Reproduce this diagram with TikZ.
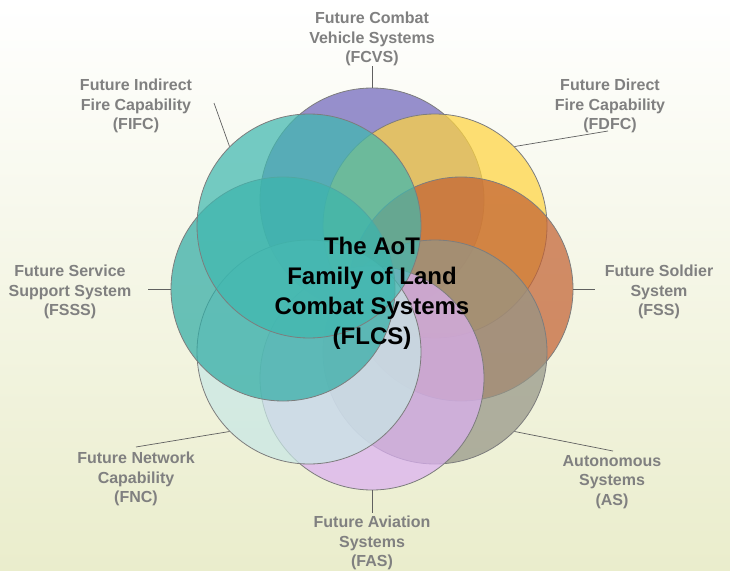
\documentclass[tikz,border=0pt]{standalone}
\usepackage{fontspec}
\setmainfont{Liberation Sans}
\definecolor{cFCVS}{RGB}{112,102,188}
\definecolor{cFDFC}{RGB}{255,212,65}
\definecolor{cFSS}{RGB}{195,98,51}
\definecolor{cAS}{RGB}{149,149,134}
\definecolor{cFAS}{RGB}{219,176,241}
\definecolor{cFNC}{RGB}{200,231,229}
\definecolor{cFSSS}{RGB}{50,172,165}
\definecolor{cFIFC}{RGB}{64,184,176}
\definecolor{circline}{RGB}{125,125,125}
\definecolor{labgray}{RGB}{128,128,128}
\definecolor{leadgray}{RGB}{96,96,96}
\definecolor{bgmid}{RGB}{248,248,236}
\definecolor{bgbot}{RGB}{234,237,204}
\begin{document}
\begin{tikzpicture}[x=1pt,y=-1pt,
  circ/.style={circle, draw=circline, line width=0.8pt, minimum size=224pt, inner sep=0pt, fill opacity=0.72},
  lab/.style={text=labgray, font=\bfseries\fontsize{16}{19.2}\selectfont, align=center, inner sep=0pt},
  lead/.style={draw=leadgray, line width=0.7pt}]
\useasboundingbox (0,0) rectangle (730,570);
\shade[top color=white, middle color=bgmid, bottom color=bgbot] (0,0) rectangle (730,570);
% circles
\node[circ, fill=cFCVS] (fcvs) at (372,200) {};
\node[circ, fill=cFDFC] (fdfc) at (435,226) {};
\node[circ, fill=cFSS]  (fss)  at (461,289) {};
\node[circ, fill=cAS]   (as)   at (435,352) {};
\node[circ, fill=cFAS]  (fas)  at (372,378) {};
\node[circ, fill=cFNC]  (fnc)  at (309,352) {};
\node[circ, fill=cFSSS] (fsss) at (283,289) {};
\node[circ, fill=cFIFC] (fifc) at (309,226) {};
% centre text
\node[font=\bfseries\fontsize{24}{30}\selectfont, align=center, inner sep=0pt] (flcs) at (372,293)
  {The AoT\\Family of Land\\Combat Systems\\(FLCS)};
% labels
\node[lab] (lfcvs) at (372,39) {Future Combat\\Vehicle Systems\\(FCVS)};
\node[lab] (lfifc) at (136,106) {Future Indirect\\Fire Capability\\(FIFC)};
\node[lab] (lfdfc) at (610,106) {Future Direct\\Fire Capability\\(FDFC)};
\node[lab] (lfsss) at (70,292) {Future Service\\Support System\\(FSSS)};
\node[lab] (lfss)  at (659,292) {Future Soldier\\System\\(FSS)};
\node[lab] (lfnc)  at (136,479) {Future Network\\Capability\\(FNC)};
\node[lab] (las)   at (612,482) {Autonomous\\Systems\\(AS)};
\node[lab] (lfas)  at (372,543) {Future Aviation\\Systems\\(FAS)};
% leader ends
\coordinate (efcvs) at (372,66);
\coordinate (efifc) at (214,103);
\coordinate (efdfc) at (608,131);
\coordinate (efsss) at (148,289);
\coordinate (efss)  at (595,289);
\coordinate (efnc)  at (136,447);
\coordinate (eas)   at (613,451);
\coordinate (efas)  at (372,513);
% leaders
\draw[lead] (fcvs.north) -- (efcvs);
\draw[lead] (fifc.135) -- (efifc);
\draw[lead] (fdfc.45) -- (efdfc);
\draw[lead] (fsss.west) -- (efsss);
\draw[lead] (fss.east) -- (efss);
\draw[lead] (fnc.-135) -- (efnc);
\draw[lead] (as.-45) -- (eas);
\draw[lead] (fas.south) -- (efas);
\end{tikzpicture}
\end{document}
